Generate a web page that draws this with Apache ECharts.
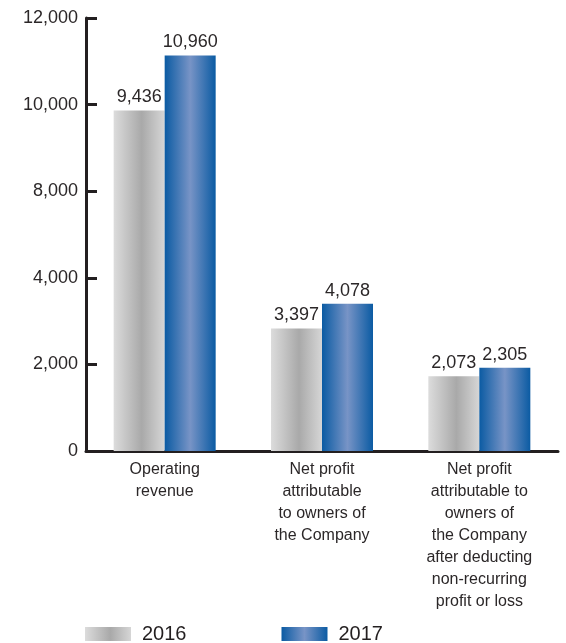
<!DOCTYPE html>
<html>
<head>
<meta charset="utf-8">
<script src="https://cdn.jsdelivr.net/npm/echarts@6/dist/echarts.min.js"></script>
<style>
  html, body { margin: 0; padding: 0; background: #fff; }
  #chart { width: 566px; height: 643px; }
</style>
</head>
<body>
<div id="chart"></div>
<script>
// categories and values
const categories = [
  'Operating\nrevenue',
  'Net profit\nattributable\nto owners of\nthe Company',
  'Net profit\nattributable to\nowners of\nthe Company\nafter deducting\nnon-recurring\nprofit or loss'
]
const values2016 = [9436, 3397, 2073]
const values2017 = [10960, 4078, 2305]
// tick labels as printed in the original (it skips 6,000)
const yTickLabels = ['0', '2,000', '4,000', '8,000', '10,000', '12,000']

const fmt = v => String(v).replace(/\B(?=(\d{3})+(?!\d))/g, ',')

const grayFill = new echarts.graphic.LinearGradient(0, 0, 1, 0, [
  { offset: 0, color: '#dcdcdc' },
  { offset: 0.55, color: '#a9a9a9' },
  { offset: 1, color: '#d6d6d6' }
])
const blueFill = new echarts.graphic.LinearGradient(0, 0, 1, 0, [
  { offset: 0, color: '#0b5ba3' },
  { offset: 0.5, color: '#7894c6' },
  { offset: 1, color: '#0b5ba3' }
])

let chart = echarts.init(document.getElementById('chart'))
let option = {
  animation: false,
  textStyle: { fontFamily: 'Liberation Sans, Arial, sans-serif', color: '#2b2728' },
  grid: { left: 86, right: 8, top: 18, bottom: 192, containLabel: false },
  legend: {
    top: 624,
    left: 85,
    padding: 0,
    itemGap: 95,
    itemWidth: 46,
    itemHeight: 14,
    icon: 'rect',
    textStyle: { fontSize: 20, color: '#231f20', padding: [0, 0, 0, 6] },
    data: [
      { name: '2016', itemStyle: { color: grayFill } },
      { name: '2017', itemStyle: { color: blueFill } }
    ]
  },
  xAxis: {
    type: 'category',
    data: categories,
    axisLine: { lineStyle: { color: '#231f20', width: 3 } },
    axisTick: { show: false },
    axisLabel: {
      interval: 0,
      fontSize: 16,
      lineHeight: 22,
      color: '#2b2728',
      margin: 8,
      align: 'center'
    }
  },
  yAxis: {
    type: 'value',
    min: 0,
    max: 12000,
    interval: 2400,
    splitLine: { show: false },
    axisLine: { show: true, lineStyle: { color: '#231f20', width: 3 } },
    axisTick: { show: true, inside: true, length: 11, lineStyle: { color: '#231f20', width: 3 } },
    axisLabel: {
      fontSize: 18,
      color: '#2b2728',
      margin: 8,
      formatter: v => yTickLabels[Math.round(v / 2400)]
    }
  },
  series: [
    {
      name: '2016',
      type: 'bar',
      data: values2016,
      barWidth: 51,
      barGap: '0%',
      itemStyle: { color: grayFill },
      label: { show: true, position: 'top', distance: 4, fontSize: 18, color: '#2b2728', formatter: p => fmt(p.value) }
    },
    {
      name: '2017',
      type: 'bar',
      data: values2017,
      barWidth: 51,
      itemStyle: { color: blueFill },
      label: { show: true, position: 'top', distance: 4, fontSize: 18, color: '#2b2728', formatter: p => fmt(p.value) }
    }
  ]
}
chart.setOption(option)
</script>
</body>
</html>
